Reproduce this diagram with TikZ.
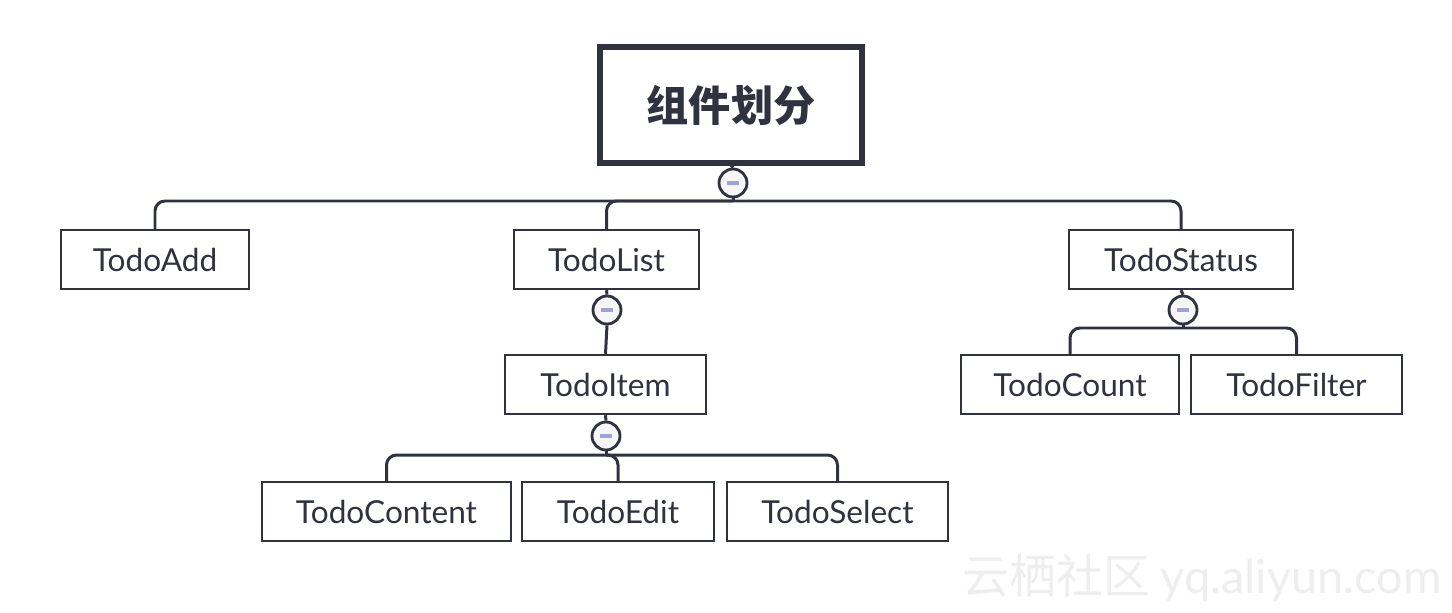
\documentclass[tikz,border=0pt]{standalone}
\usepackage{fontspec}
\setmainfont{Lato}
\newfontfamily\cjk{Noto Sans CJK SC}
\def\pu{0.02cm}
\definecolor{ink}{HTML}{30333F}
\definecolor{minusc}{HTML}{9EA3D0}
\definecolor{cfill}{HTML}{F6F6F8}
\definecolor{wmark}{HTML}{EEEEEE}
\tikzset{
  box/.style={draw=ink, line width=1.4pt, fill=white, inner sep=0pt, minimum height=59*\pu,
    font=\fontsize{18}{20}\selectfont, text=ink},
  wire/.style={draw=ink, line width=1.7pt, rounded corners=10*\pu},
  toggle/.style={circle, draw=ink, line width=1.6pt, fill=cfill, minimum size=28*\pu, inner sep=0pt}
}
\newcommand{\minussign}{\textcolor{minusc}{\rule{0.25cm}{0.07cm}}}
\begin{document}
\begin{tikzpicture}[x=\pu, y=-\pu]
\useasboundingbox (0,0) rectangle (1452,612);
% watermark
\node[text=wmark, font=\fontsize{26.7}{30}\selectfont, anchor=west, inner sep=0pt] (wm) at (962,578) {\cjk 云栖社区\ \normalfont yq.aliyun.com};
% nodes
\node[box, line width=2.9pt, minimum width=262*\pu, minimum height=116*\pu,
  font=\cjk\bfseries\fontsize{24}{28}\selectfont] (root) at (731,105) {组件划分};
\node[toggle] (c0) at (733,183) {\minussign};
\coordinate (b0) at (733,201);
\node[box, minimum width=188*\pu] (add) at (155,259.5) {TodoAdd};
\node[box, minimum width=185*\pu] (list) at (606.5,259.5) {TodoList};
\node[box, minimum width=224*\pu] (status) at (1181,259.5) {TodoStatus};
\node[toggle] (c1) at (607,310) {\minussign};
\node[box, minimum width=201*\pu] (item) at (605.5,384.5) {TodoItem};
\node[toggle] (c2) at (606,436) {\minussign};
\coordinate (b2) at (606,455);
\node[box, minimum width=249*\pu] (content) at (386.5,511.5) {TodoContent};
\node[box, minimum width=192*\pu] (edit) at (618,511.5) {TodoEdit};
\node[box, minimum width=221*\pu] (select) at (837.5,511.5) {TodoSelect};
\node[toggle] (c3) at (1183,310) {\minussign};
\coordinate (b3) at (1183,328);
\node[box, minimum width=218*\pu] (count) at (1070,384.5) {TodoCount};
\node[box, minimum width=211*\pu] (filter) at (1296.5,384.5) {TodoFilter};
% connectors
\draw[wire] (root.south) -- (c0.north);
\draw[wire] (c0.south) -- (b0);
\draw[wire] (b0) -| (add.north);
\draw[wire] (b0) -| (list.north);
\draw[wire] (b0) -| (status.north);
\draw[wire] (list.south) -- (c1.north);
\draw[wire] (c1.south) -- (item.north);
\draw[wire] (item.south) -- (c2.north);
\draw[wire] (c2.south) -- (b2);
\draw[wire] (b2) -| (content.north);
\draw[wire] (b2) -| (edit.north);
\draw[wire] (b2) -| (select.north);
\draw[wire] (status.south) -- (c3.north);
\draw[wire] (c3.south) -- (b3);
\draw[wire] (b3) -| (count.north);
\draw[wire] (b3) -| (filter.north);
\end{tikzpicture}
\end{document}
